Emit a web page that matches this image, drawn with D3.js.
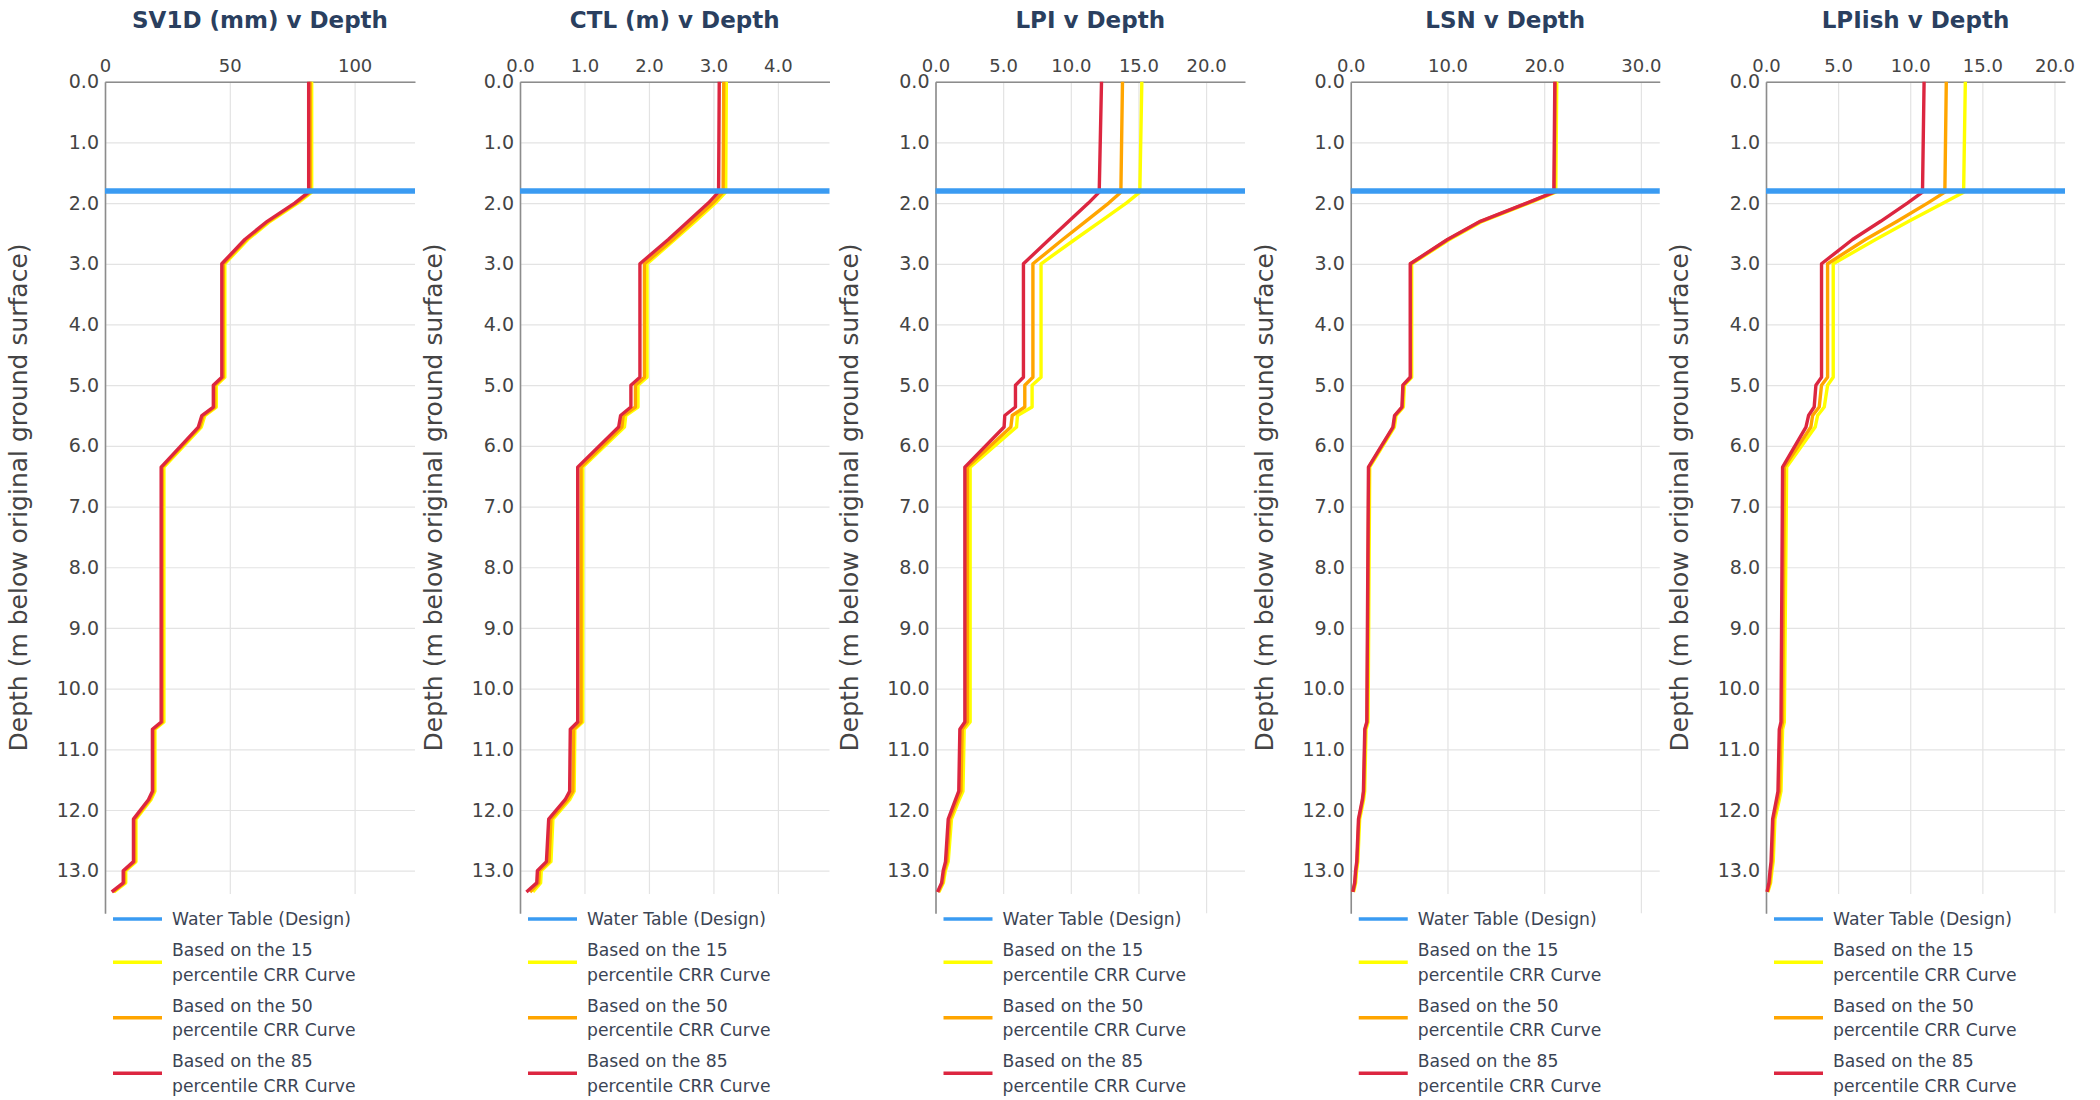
<!DOCTYPE html>
<html>
<head>
<meta charset="utf-8">
<script src="https://cdn.jsdelivr.net/npm/d3@7"></script>
<style>
  body { margin: 0; background: #ffffff; }
  svg { display: block; font-family: "DejaVu Sans", sans-serif; }
</style>
</head>
<body>
<svg id="chart" width="2100" height="1100"></svg>
<script>
// Depths (m below original ground surface) shared by every profile
const depth = [0, 1.82, 2.0, 2.3, 2.6, 3.0, 4.87, 5.0, 5.36, 5.5, 5.69, 6.35, 10.55, 10.67, 11.69, 11.83, 12.15, 12.85, 13.0, 13.2, 13.35];
const waterTableDepth = 1.8;
const depthTicks = [0, 1, 2, 3, 4, 5, 6, 7, 8, 9, 10, 11, 12, 13];

// SV1D (mm)
const sv1d15 = [82.8, 82.8, 77.2, 66.2, 57.2, 48.0, 48.0, 44.6, 44.6, 40.0, 38.6, 23.6, 23.6, 20.0, 20.0, 18.4, 12.4, 12.4, 8.3, 8.3, 3.6];
const sv1d50 = [82.2, 82.2, 76.6, 65.6, 56.6, 47.4, 47.4, 44.0, 44.0, 39.4, 38.0, 23.0, 23.0, 19.5, 19.5, 17.9, 11.9, 11.9, 7.8, 7.8, 3.1];
const sv1d85 = [81.6, 81.6, 76.0, 65.0, 56.0, 46.8, 46.8, 43.4, 43.4, 38.8, 37.4, 22.5, 22.5, 19.0, 19.0, 17.4, 11.4, 11.4, 7.3, 7.3, 2.7];

// CTL (m)
const ctl15 = [3.20, 3.19, 3.03, 2.72, 2.40, 1.97, 1.97, 1.83, 1.83, 1.64, 1.62, 0.973, 0.973, 0.85, 0.84, 0.77, 0.51, 0.48, 0.33, 0.32, 0.20];
const ctl50 = [3.16, 3.15, 2.99, 2.68, 2.37, 1.93, 1.93, 1.79, 1.79, 1.60, 1.58, 0.947, 0.947, 0.83, 0.82, 0.74, 0.48, 0.45, 0.30, 0.29, 0.155];
const ctl85 = [3.09, 3.08, 2.92, 2.61, 2.30, 1.86, 1.86, 1.72, 1.72, 1.56, 1.53, 0.895, 0.895, 0.78, 0.77, 0.70, 0.445, 0.41, 0.27, 0.26, 0.10];

// LPI
const lpi15 = [15.25, 15.1, 14.1, 12.2, 10.3, 7.8, 7.8, 7.14, 7.14, 6.06, 5.99, 2.56, 2.56, 2.12, 2.03, 1.75, 1.18, 0.94, 0.73, 0.58, 0.25];
const lpi50 = [13.82, 13.7, 12.8, 11.1, 9.4, 7.2, 7.2, 6.6, 6.6, 5.67, 5.57, 2.36, 2.36, 1.97, 1.88, 1.62, 1.06, 0.84, 0.65, 0.52, 0.20];
const lpi85 = [12.27, 12.1, 11.3, 9.85, 8.4, 6.5, 6.5, 5.91, 5.91, 5.12, 5.07, 2.17, 2.17, 1.80, 1.72, 1.48, 0.94, 0.74, 0.57, 0.45, 0.15];

// LSN
const lsn15 = [21.3, 21.2, 18.4, 13.6, 10.2, 6.3, 6.3, 5.54, 5.44, 4.68, 4.51, 1.96, 1.79, 1.58, 1.44, 1.33, 0.92, 0.73, 0.60, 0.50, 0.29];
const lsn50 = [21.15, 21.05, 18.25, 13.45, 10.05, 6.2, 6.2, 5.44, 5.34, 4.58, 4.41, 1.87, 1.70, 1.49, 1.35, 1.24, 0.84, 0.66, 0.54, 0.44, 0.24];
const lsn85 = [21.1, 21.0, 18.2, 13.4, 10.0, 6.15, 6.15, 5.39, 5.29, 4.53, 4.36, 1.83, 1.66, 1.45, 1.31, 1.20, 0.80, 0.62, 0.50, 0.40, 0.21];

// LPIish
const lpiish15 = [13.82, 13.7, 12.3, 9.9, 7.6, 4.66, 4.66, 4.27, 4.04, 3.58, 3.41, 1.43, 1.27, 1.15, 1.04, 0.92, 0.62, 0.50, 0.41, 0.32, 0.13];
const lpiish50 = [12.5, 12.4, 11.2, 9.1, 6.9, 4.27, 4.27, 3.85, 3.69, 3.23, 3.11, 1.27, 1.15, 1.04, 0.94, 0.82, 0.53, 0.42, 0.34, 0.26, 0.10];
const lpiish85 = [10.96, 10.85, 9.8, 7.95, 6.0, 3.85, 3.85, 3.46, 3.34, 2.95, 2.77, 1.15, 1.04, 0.92, 0.83, 0.72, 0.46, 0.35, 0.28, 0.20, 0.07];

const panelTitles = ["SV1D (mm) v Depth", "CTL (m) v Depth", "LPI v Depth", "LSN v Depth", "LPIish v Depth"];
const xTicks = [[0, 50, 100], [0, 1, 2, 3, 4], [0, 5, 10, 15, 20], [0, 10, 20, 30], [0, 5, 10, 15, 20]];
const xTickFormats = ["d", ".1f", ".1f", ".1f", ".1f"];
const seriesNames = ["Based on the 15 percentile CRR Curve", "Based on the 50 percentile CRR Curve", "Based on the 85 percentile CRR Curve"];
const waterTableName = "Water Table (Design)";
const yAxisTitle = "Depth (m below original ground surface)";

const panelSeries = [
  [sv1d15, sv1d50, sv1d85],
  [ctl15, ctl50, ctl85],
  [lpi15, lpi50, lpi85],
  [lsn15, lsn50, lsn85],
  [lpiish15, lpiish50, lpiish85]
];

// ---- layout ----
const COLORS = { water: "#3a9bf2", p15: "#ffff00", p50: "#ffa500", p85: "#dc2640" };
const seriesColors = [COLORS.p15, COLORS.p50, COLORS.p85];
const plotLefts = [105, 520, 935.5, 1350.75, 1766];
const plotWidths = [310, 309.5, 309.5, 309, 299];
const plotTop = 81.7, plotBottom = 913.2;

const svg = d3.select("#chart");

const y = d3.scaleLinear().domain([0, 13.7]).range([plotTop, plotBottom]);

panelSeries.forEach((series, i) => {
  const left = plotLefts[i], width = plotWidths[i];
  const maxVal = d3.max(series, s => d3.max(s));
  const x = d3.scaleLinear().domain([0, maxVal * 1.5]).range([left, left + width]);
  const g = svg.append("g");

  // grid
  g.append("g")
    .attr("transform", `translate(0,${plotTop})`)
    .call(d3.axisTop(x).tickValues(xTicks[i]).tickSize(-(plotBottom - plotTop)).tickFormat(""))
    .call(a => a.select(".domain").remove())
    .call(a => a.selectAll("line").attr("stroke", "#e3e3e3").attr("stroke-width", 1.2));
  g.append("g")
    .attr("transform", `translate(${left},0)`)
    .call(d3.axisLeft(y).tickValues(depthTicks).tickSize(-width).tickFormat(""))
    .call(a => a.select(".domain").remove())
    .call(a => a.selectAll("line").attr("stroke", "#e3e3e3").attr("stroke-width", 1.2));

  // axes with labels
  g.append("g")
    .attr("transform", `translate(0,${plotTop})`)
    .call(d3.axisTop(x).tickValues(xTicks[i]).tickSize(0).tickPadding(10).tickFormat(d3.format(xTickFormats[i])))
    .call(a => a.select(".domain").attr("stroke", "#8c8c8c").attr("stroke-width", 1.6))
    .call(a => a.selectAll("text").attr("fill", "#444").attr("font-size", 18).attr("font-family", "DejaVu Sans"));
  g.append("g")
    .attr("transform", `translate(${left},0)`)
    .call(d3.axisLeft(y).tickValues(depthTicks).tickSize(0).tickPadding(6).tickFormat(d3.format(".1f")))
    .call(a => a.select(".domain").attr("stroke", "#8c8c8c").attr("stroke-width", 1.6))
    .call(a => a.selectAll("text").attr("fill", "#444").attr("font-size", 19).attr("font-family", "DejaVu Sans"));

  // profiles
  const line = d3.line().x(d => x(d[0])).y(d => y(d[1]));
  series.forEach((vals, k) => {
    g.append("path")
      .datum(vals.map((v, j) => [v, depth[j]]))
      .attr("d", line)
      .attr("fill", "none")
      .attr("stroke", seriesColors[k])
      .attr("stroke-width", 3.4)
      .attr("stroke-linejoin", "round");
  });

  // water table
  g.append("line")
    .attr("x1", left).attr("x2", left + width)
    .attr("y1", y(waterTableDepth)).attr("y2", y(waterTableDepth))
    .attr("stroke", COLORS.water).attr("stroke-width", 5.5);

  // title
  g.append("text")
    .attr("x", left + width / 2).attr("y", 28)
    .attr("text-anchor", "middle")
    .attr("font-size", 23).attr("font-weight", "bold")
    .attr("fill", "#2a3f5f")
    .text(panelTitles[i]);

  // y-axis title
  g.append("text")
    .attr("transform", `translate(${left - 78},${(plotTop + plotBottom) / 2}) rotate(-90)`)
    .attr("text-anchor", "middle")
    .attr("font-size", 25)
    .attr("fill", "#444")
    .text(yAxisTitle);

  // legend
  const lg = g.append("g");
  lg.append("rect")
    .attr("x", left + 3).attr("y", 894)
    .attr("width", 262).attr("height", 206)
    .attr("fill", "#ffffff");
  const entries = [
    { lines: [waterTableName], color: COLORS.water },
    ...seriesNames.map((n, k) => ({ lines: [n.slice(0, 15), n.slice(16)], color: seriesColors[k] }))
  ];
  const lineH = 24.5, gap = 6.5;
  let cy = 919;
  entries.forEach((e, k) => {
    if (k > 0) cy += (entries[k - 1].lines.length + e.lines.length) * lineH / 2 + gap;
    lg.append("line")
      .attr("x1", left + 8).attr("x2", left + 57)
      .attr("y1", cy).attr("y2", cy)
      .attr("stroke", e.color).attr("stroke-width", 3.5);
    const t = lg.append("text")
      .attr("font-size", 17.2).attr("fill", "#3b4454");
    const firstY = cy - (e.lines.length - 1) * lineH / 2;
    e.lines.forEach((s, m) => {
      t.append("tspan")
        .attr("x", left + 67)
        .attr("y", firstY + m * lineH)
        .attr("dy", "0.35em")
        .text(s);
    });
  });
});
</script>
</body>
</html>
